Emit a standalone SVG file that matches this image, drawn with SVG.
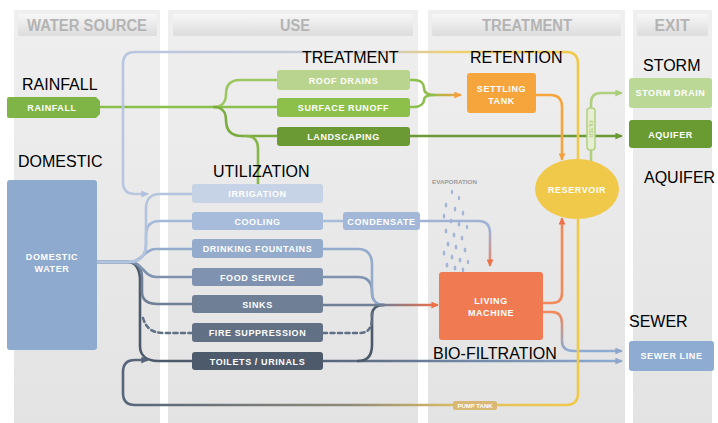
<svg xmlns="http://www.w3.org/2000/svg" width="718" height="423" viewBox="0 0 718 423">
<defs>
<style>
.lbl{font-family:"Liberation Sans",Arial,sans-serif;font-size:16px;fill:#000}
.hdr{font-family:"Liberation Sans",Arial,sans-serif;font-size:16px;font-weight:bold;fill:#b4b4b4;text-anchor:middle}
.nt{font-family:"Liberation Sans",Arial,sans-serif;font-size:9px;font-weight:bold;fill:#fff;text-anchor:middle;letter-spacing:0.6px}
.ln{fill:none;stroke-width:2.6;stroke-linecap:round;stroke-linejoin:round}
.panel{fill:url(#pg)}
.hbox{fill:url(#hg)}
</style>
<linearGradient id="pg" x1="0" y1="0" x2="0" y2="1"><stop offset="0" stop-color="#efefef"/><stop offset="1" stop-color="#e3e3e3"/></linearGradient>
<linearGradient id="hg" x1="0" y1="0" x2="0" y2="1"><stop offset="0" stop-color="#f7f7f7"/><stop offset="1" stop-color="#dcdcdc"/></linearGradient>
<linearGradient id="gTop" gradientUnits="userSpaceOnUse" x1="123" y1="0" x2="578" y2="0"><stop offset="0" stop-color="#b8c6e0"/><stop offset="0.55" stop-color="#c9cbd2"/><stop offset="0.72" stop-color="#efd070"/><stop offset="1" stop-color="#f0c94a"/></linearGradient>
<linearGradient id="gPump" gradientUnits="userSpaceOnUse" x1="123" y1="0" x2="578" y2="0"><stop offset="0" stop-color="#56657a"/><stop offset="0.5" stop-color="#8f8a78"/><stop offset="0.75" stop-color="#e0c060"/><stop offset="1" stop-color="#f0c94a"/></linearGradient>
<linearGradient id="gSink" gradientUnits="userSpaceOnUse" x1="380" y1="0" x2="437" y2="0"><stop offset="0" stop-color="#6e7f96"/><stop offset="1" stop-color="#ee7048"/></linearGradient>
<linearGradient id="gToil" gradientUnits="userSpaceOnUse" x1="323" y1="0" x2="621" y2="0"><stop offset="0" stop-color="#56657a"/><stop offset="1" stop-color="#8eabd2"/></linearGradient>
<linearGradient id="gCond" gradientUnits="userSpaceOnUse" x1="0" y1="228" x2="0" y2="266"><stop offset="0" stop-color="#9fb2d4"/><stop offset="1" stop-color="#e8866a"/></linearGradient>
<linearGradient id="gLMs" gradientUnits="userSpaceOnUse" x1="0" y1="312" x2="0" y2="351"><stop offset="0" stop-color="#f08a5a"/><stop offset="1" stop-color="#8eabd2"/></linearGradient>
<linearGradient id="gSet" gradientUnits="userSpaceOnUse" x1="424" y1="0" x2="462" y2="0"><stop offset="0" stop-color="#8cbf4c"/><stop offset="1" stop-color="#f0a040"/></linearGradient>
<marker id="mOr" viewBox="0 0 10 10" refX="8" refY="5" markerWidth="7" markerHeight="7" markerUnits="userSpaceOnUse" orient="auto"><path d="M0,0 L10,5 L0,10 z" fill="#f5a03c"/></marker>
<marker id="mCo" viewBox="0 0 10 10" refX="8" refY="5" markerWidth="7" markerHeight="7" markerUnits="userSpaceOnUse" orient="auto"><path d="M0,0 L10,5 L0,10 z" fill="#ee7048"/></marker>
<marker id="mGr" viewBox="0 0 10 10" refX="8" refY="5" markerWidth="7" markerHeight="7" markerUnits="userSpaceOnUse" orient="auto"><path d="M0,0 L10,5 L0,10 z" fill="#6a9a35"/></marker>
<marker id="mLg" viewBox="0 0 10 10" refX="8" refY="5" markerWidth="7" markerHeight="7" markerUnits="userSpaceOnUse" orient="auto"><path d="M0,0 L10,5 L0,10 z" fill="#a8cc78"/></marker>
<marker id="mBl" viewBox="0 0 10 10" refX="8" refY="5" markerWidth="7" markerHeight="7" markerUnits="userSpaceOnUse" orient="auto"><path d="M0,0 L10,5 L0,10 z" fill="#8ea6cc"/></marker>
<marker id="mLb" viewBox="0 0 10 10" refX="8" refY="5" markerWidth="7" markerHeight="7" markerUnits="userSpaceOnUse" orient="auto"><path d="M0,0 L10,5 L0,10 z" fill="#b0c0dc"/></marker>
<marker id="mDg" viewBox="0 0 10 10" refX="8" refY="5" markerWidth="7" markerHeight="7" markerUnits="userSpaceOnUse" orient="auto"><path d="M0,0 L10,5 L0,10 z" fill="#56657a"/></marker>
</defs>
<rect width="718" height="423" fill="#fff"/>
<g id="panels">
<rect class="panel" x="14" y="10" width="146" height="413"/>
<rect class="panel" x="168" y="10" width="250" height="413"/>
<rect class="panel" x="428" y="10" width="197" height="413"/>
<rect class="panel" x="633" y="10" width="79" height="413"/>
<rect class="hbox" x="18" y="14" width="139" height="22" rx="2"/>
<rect class="hbox" x="173" y="14" width="240" height="22" rx="2"/>
<rect class="hbox" x="432" y="14" width="189" height="22" rx="2"/>
<rect class="hbox" x="637" y="14" width="71" height="22" rx="2"/>
<text class="hdr" x="87" y="31" textLength="120" lengthAdjust="spacingAndGlyphs">WATER SOURCE</text>
<text class="hdr" x="295" y="31" textLength="30" lengthAdjust="spacingAndGlyphs">USE</text>
<text class="hdr" x="527" y="31" textLength="90" lengthAdjust="spacingAndGlyphs">TREATMENT</text>
<text class="hdr" x="672" y="31" textLength="35" lengthAdjust="spacingAndGlyphs">EXIT</text>
</g>
<g id="evaporation">
<text x="432" y="184" font-family="Liberation Sans, Arial, sans-serif" font-size="6" font-weight="bold" fill="#9a9a9a" textLength="45" lengthAdjust="spacingAndGlyphs">EVAPORATION</text>
<g fill="#a3b4d6">
<ellipse cx="452" cy="192" rx="1.2" ry="2.2"/><ellipse cx="459" cy="198" rx="1.2" ry="2.2"/><ellipse cx="446" cy="205" rx="1.3" ry="2.5"/><ellipse cx="455" cy="209" rx="1.3" ry="2.5"/><ellipse cx="463" cy="213" rx="1.3" ry="2.5"/><ellipse cx="444" cy="216" rx="1.3" ry="2.5"/><ellipse cx="451" cy="221" rx="1.3" ry="2.5"/><ellipse cx="459" cy="224" rx="1.4" ry="2.6"/><ellipse cx="467" cy="227" rx="1.2" ry="2.2"/><ellipse cx="446" cy="231" rx="1.4" ry="2.6"/><ellipse cx="454" cy="235" rx="1.4" ry="2.6"/><ellipse cx="462" cy="238" rx="1.4" ry="2.6"/><ellipse cx="448" cy="244" rx="1.4" ry="2.6"/><ellipse cx="456" cy="247" rx="1.4" ry="2.6"/><ellipse cx="465" cy="250" rx="1.4" ry="2.6"/><ellipse cx="444" cy="253" rx="1.3" ry="2.5"/><ellipse cx="452" cy="257" rx="1.4" ry="2.6"/><ellipse cx="460" cy="260" rx="1.4" ry="2.6"/><ellipse cx="468" cy="262" rx="1.2" ry="2.3"/><ellipse cx="447" cy="265" rx="1.4" ry="2.6"/><ellipse cx="455" cy="268" rx="1.4" ry="2.6"/><ellipse cx="463" cy="270" rx="1.3" ry="2.4"/>
</g>
</g>
<g id="connectors">
<path class="ln" stroke="#8cbf4c" d="M100,107 H277"/>
<path class="ln" stroke="#9cc660" d="M214,107 C222,107 226,102 226,94 C226,85 230,80 240,80 H277"/>
<path class="ln" stroke="#7aac40" d="M214,107 C222,107 226,112 226,120 C226,130 231,136 242,136 H277"/>
<path class="ln" stroke="#86b648" d="M246,136 C254,136 258,140 258,149 V184"/>
<path class="ln" stroke="url(#gSet)" d="M410,80 H414 C421,80 424,84 424,88 C424,92 427,95 434,95 H460" marker-end="url(#mOr)"/>
<path class="ln" stroke="#8cbf4c" d="M410,107 H414 C421,107 424,103 424,100 C424,97 427,95 434,95"/>
<path class="ln" stroke="#6a9a35" d="M410,136 H621" marker-end="url(#mGr)"/>
<path class="ln" stroke="#f5a53c" d="M536,95 H550 Q562,95 562,107 V159" marker-end="url(#mOr)"/>
<path class="ln" stroke="url(#gTop)" d="M578,159 V64 Q578,52 566,52 H135 Q123,52 123,64 V182 Q123,194 135,194 H147" marker-end="url(#mLb)"/>
<path class="ln" stroke="#b0d080" d="M591,161 V150"/>
<path class="ln" stroke="#b0d080" d="M591,108 V103 Q591,93 601,93 H621" marker-end="url(#mLg)"/>
<path class="ln" stroke="#4d5a6b" d="M97,262 H128 C136,262 140,270 140,280 V346 C140,355 146,361 158,361 H192"/>
<path class="ln" stroke="#617085" stroke-dasharray="4 3.5" d="M143,318 C146,328 152,333 164,333 H192"/>
<path class="ln" stroke="#6e7f96" d="M97,262 H128 C138,262 142,268 142,278 V292 C142,300 148,304 158,304 H192"/>
<path class="ln" stroke="#7f93b0" d="M97,262 H130 C142,262 144,277 156,277 H192"/>
<path class="ln" stroke="#94abcb" d="M97,262 H130 C142,262 144,249 156,249 H192"/>
<path class="ln" stroke="#a4badb" d="M97,262 H128 C140,262 146,256 146,244 V235 C146,226 150,221 160,221 H192"/>
<path class="ln" stroke="#b4c4de" d="M97,262 H128 C140,262 146,256 146,244 V208 C146,200 150,194 160,194 H192"/>
<path class="ln" stroke="#a7bcdb" d="M323,221 H343"/>
<path class="ln" stroke="url(#gCond)" d="M420,221 H478 Q490,221 490,233 V265" marker-end="url(#mCo)"/>
<path class="ln" stroke="url(#gToil)" d="M323,361 H621" marker-end="url(#mBl)"/>
<path class="ln" stroke="#4d5a6b" d="M358,361 C368,361 372,355 372,345 V315 C372,309 376,305 384,305"/>
<path class="ln" stroke="#617085" stroke-dasharray="4 3.5" d="M323,333 H360 C368,333 372,328 372,318 V312"/>
<path class="ln" stroke="#7f93b0" d="M323,277 H358 C368,277 372,283 372,292 C372,300 376,305 384,305"/>
<path class="ln" stroke="#94abcb" d="M323,249 H358 C368,249 372,255 372,265 V292 C372,300 376,305 384,305"/>
<path class="ln" stroke="url(#gSink)" d="M323,305 H437" marker-end="url(#mCo)"/>
<path class="ln" stroke="#f08a5a" d="M543,303 H552 Q562,303 562,293 V219" marker-end="url(#mCo)"/>
<path class="ln" stroke="url(#gLMs)" d="M543,312 H552 Q562,312 562,324 V341 Q562,351 574,351 H621" marker-end="url(#mBl)"/>
<path class="ln" stroke="url(#gPump)" d="M578,219 V393 Q578,405 566,405 H135 Q123,405 123,393 V372 Q123,360 135,360 H147" marker-end="url(#mDg)"/>
</g>
<g id="n-rainfall"><path d="M9,97 H96 L100,101 V114 L96,118 H9 Q7,118 7,116 V99 Q7,97 9,97 z" fill="#7fb446"/><text class="nt" x="52" y="110.5">RAINFALL</text></g>
<g id="n-domestic"><rect x="7" y="180" width="90" height="170" rx="3" fill="#8eaacf"/><text class="nt" x="52" y="260">DOMESTIC</text><text class="nt" x="52" y="272">WATER</text></g>
<g id="n-roof"><rect x="277" y="70" width="133" height="20" rx="3" fill="#b9d48e"/><text class="nt" x="343.5" y="83.5">ROOF DRAINS</text></g>
<g id="n-runoff"><rect x="277" y="98" width="133" height="19" rx="3" fill="#8cc04a"/><text class="nt" x="343.5" y="111">SURFACE RUNOFF</text></g>
<g id="n-landscaping"><rect x="277" y="127" width="133" height="19" rx="3" fill="#6b9a35"/><text class="nt" x="343.5" y="140">LANDSCAPING</text></g>
<g id="n-irrigation"><rect x="192" y="184" width="131" height="19" rx="3" fill="#c6d3e6"/><text class="nt" x="257.5" y="197">IRRIGATION</text></g>
<g id="n-cooling"><rect x="192" y="212" width="131" height="18" rx="3" fill="#a7bcdb"/><text class="nt" x="257.5" y="224.5">COOLING</text></g>
<g id="n-condensate"><rect x="343" y="212" width="77" height="18" rx="3" fill="#a3b8d8"/><text class="nt" x="381.5" y="224.5">CONDENSATE</text></g>
<g id="n-drinking"><rect x="192" y="239" width="131" height="19" rx="3" fill="#94abcb"/><text class="nt" x="257.5" y="252">DRINKING FOUNTAINS</text></g>
<g id="n-food"><rect x="192" y="268" width="131" height="18" rx="3" fill="#7f93b0"/><text class="nt" x="257.5" y="280.5">FOOD SERVICE</text></g>
<g id="n-sinks"><rect x="192" y="295" width="131" height="18" rx="3" fill="#6e7f96"/><text class="nt" x="257.5" y="307.5">SINKS</text></g>
<g id="n-fire"><rect x="192" y="323" width="131" height="19" rx="3" fill="#617085"/><text class="nt" x="257.5" y="336">FIRE SUPPRESSION</text></g>
<g id="n-toilets"><rect x="192" y="352" width="131" height="18" rx="3" fill="#4d5a6b"/><text class="nt" x="257.5" y="364.5">TOILETS / URINALS</text></g>
<g id="n-settling"><rect x="467" y="73" width="69" height="40" rx="3" fill="#f5a53c"/><text class="nt" x="501.5" y="92">SETTLING</text><text class="nt" x="501.5" y="104">TANK</text></g>
<g id="n-reservoir"><ellipse cx="577" cy="189" rx="42" ry="30" fill="#f0c94a"/><text class="nt" x="577" y="192.5">RESERVOIR</text></g>
<g id="n-filter"><rect x="587" y="108" width="8" height="42" rx="3" fill="#e6efd2" stroke="#b0d080" stroke-width="1.5"/><text x="591" y="129" font-family="Liberation Sans, Arial, sans-serif" font-size="5" font-weight="bold" fill="#b0d080" text-anchor="middle" transform="rotate(90 591 129)" dy="1.8">FILTER</text></g>
<g id="n-living"><rect x="439" y="272" width="104" height="68" rx="3" fill="#f07a52"/><text class="nt" x="491" y="304">LIVING</text><text class="nt" x="491" y="316">MACHINE</text></g>
<g id="n-pump"><rect x="453" y="401" width="44" height="9" rx="2" fill="#d8b874"/><text x="475" y="408" font-family="Liberation Sans, Arial, sans-serif" font-size="6" font-weight="bold" fill="#fff" text-anchor="middle">PUMP TANK</text></g>
<g id="n-storm"><rect x="629" y="78" width="83" height="30" rx="3" fill="#bcd896"/><text class="nt" x="670.5" y="96">STORM DRAIN</text></g>
<g id="n-aquifer"><rect x="629" y="120" width="83" height="28" rx="3" fill="#6a9a32"/><text class="nt" x="670.5" y="137.5">AQUIFER</text></g>
<g id="n-sewer"><rect x="629" y="341" width="85" height="30" rx="3" fill="#8eabd2"/><text class="nt" x="671.5" y="359">SEWER LINE</text></g>
<g id="labels">
<text class="lbl" x="22" y="90">RAINFALL</text>
<text class="lbl" x="18" y="167">DOMESTIC</text>
<text class="lbl" x="213" y="177">UTILIZATION</text>
<text class="lbl" x="302" y="63">TREATMENT</text>
<text class="lbl" x="470" y="63">RETENTION</text>
<text class="lbl" x="643" y="71">STORM</text>
<text class="lbl" x="644" y="183">AQUIFER</text>
<text class="lbl" x="629" y="327">SEWER</text>
<text class="lbl" x="433" y="359">BIO-FILTRATION</text>
</g>
</svg>
